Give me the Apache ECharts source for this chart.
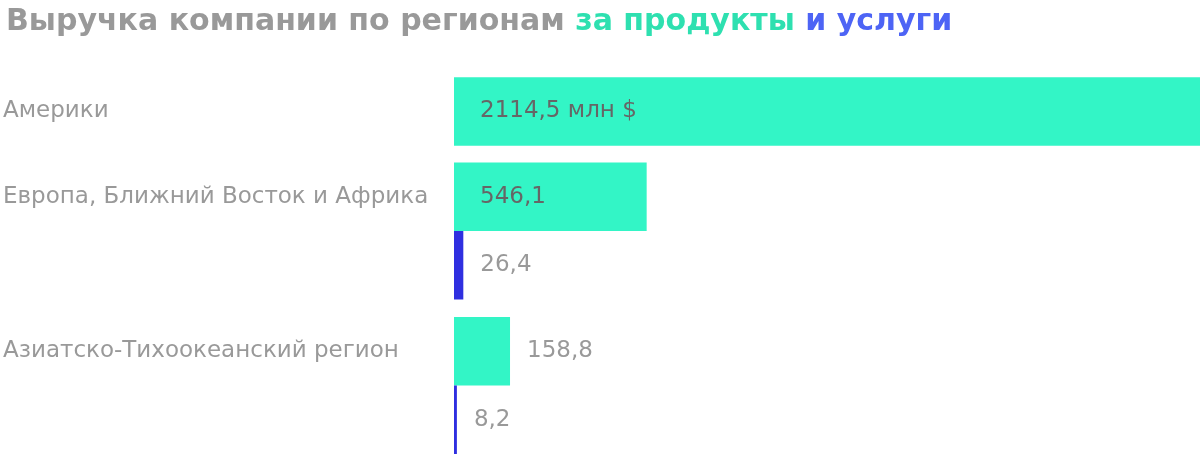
<!DOCTYPE html>
<html><head><meta charset="utf-8">
<script src="https://cdn.jsdelivr.net/npm/echarts@6/dist/echarts.min.js"></script>
<style>html,body{margin:0;padding:0;background:#fff}#c{width:1200px;height:456px}</style>
</head><body><div id="c"></div>
<script>
const categories = ['Америки', 'Европа, Ближний Восток и Африка', 'Азиатско-Тихоокеанский регион'];
const products = [2114.5, 546.1, 158.8];
const services = [null, 26.4, 8.2];
const unitSuffix = ' млн $';

const GREEN = '#33f5c6', BLUE = '#2f2fe0';
const FONT = 'DejaVu Sans';
const FS = 23;
const BAR = 68.5;
const xMax = 2114.5;
// grid boxes per region (layout only)
const gridBoxes = [
  { top: 68, height: 86.8 },
  { top: 160, height: 142 },
  { top: 315, height: 141 }
];
const fmt = v => String(v).replace('.', ',');

function prodLabel(v, first) {
  const big = v > 300;
  return {
    show: true,
    position: big ? 'insideLeft' : 'right',
    distance: big ? 26 : 17,
    color: big ? '#666' : '#999',
    fontFamily: FONT, fontSize: FS,
    formatter: () => fmt(v) + (first ? unitSuffix : '')
  };
}

const grid = [], xAxis = [], yAxis = [], series = [];
categories.forEach((cat, i) => {
  const hasServ = services[i] != null;
  grid.push({ left: 454, right: 0, top: gridBoxes[i].top, height: gridBoxes[i].height });
  xAxis.push({ gridIndex: i, type: 'value', min: 0, max: xMax, show: false });
  yAxis.push({
    gridIndex: i, type: 'category', data: [cat],
    axisLine: { show: false }, axisTick: { show: false },
    axisLabel: {
      show: true, align: 'left', margin: 451, color: '#999',
      fontFamily: FONT, fontSize: FS, lineHeight: hasServ ? BAR : FS,
      formatter: v => hasServ ? v + '\n\u00a0' : v
    }
  });
  series.push({
    type: 'bar', xAxisIndex: i, yAxisIndex: i, barWidth: BAR, barGap: '0%',
    itemStyle: { color: GREEN },
    data: [{ value: products[i], label: prodLabel(products[i], i === 0) }]
  });
  if (hasServ) {
    series.push({
      type: 'bar', xAxisIndex: i, yAxisIndex: i, barWidth: BAR, barGap: '0%',
      itemStyle: { color: BLUE },
      label: { show: true, position: 'right', distance: 17, color: '#999',
        fontFamily: FONT, fontSize: FS, formatter: p => fmt(p.value) },
      data: [services[i]]
    });
  }
});

const chart = echarts.init(document.getElementById('c'));
chart.setOption({
  animation: false,
  title: {
    left: 1, top: 2,
    text: '{a|Выручка компании по регионам }{b|за продукты}{c| и услуги}',
    textStyle: {
      rich: {
        a: { color: '#999', fontFamily: FONT, fontWeight: 'bold', fontSize: 30 },
        b: { color: '#2ee0b0', fontFamily: FONT, fontWeight: 'bold', fontSize: 30 },
        c: { color: '#4d64f5', fontFamily: FONT, fontWeight: 'bold', fontSize: 30 }
      }
    }
  },
  grid, xAxis, yAxis, series
});
</script></body></html>
